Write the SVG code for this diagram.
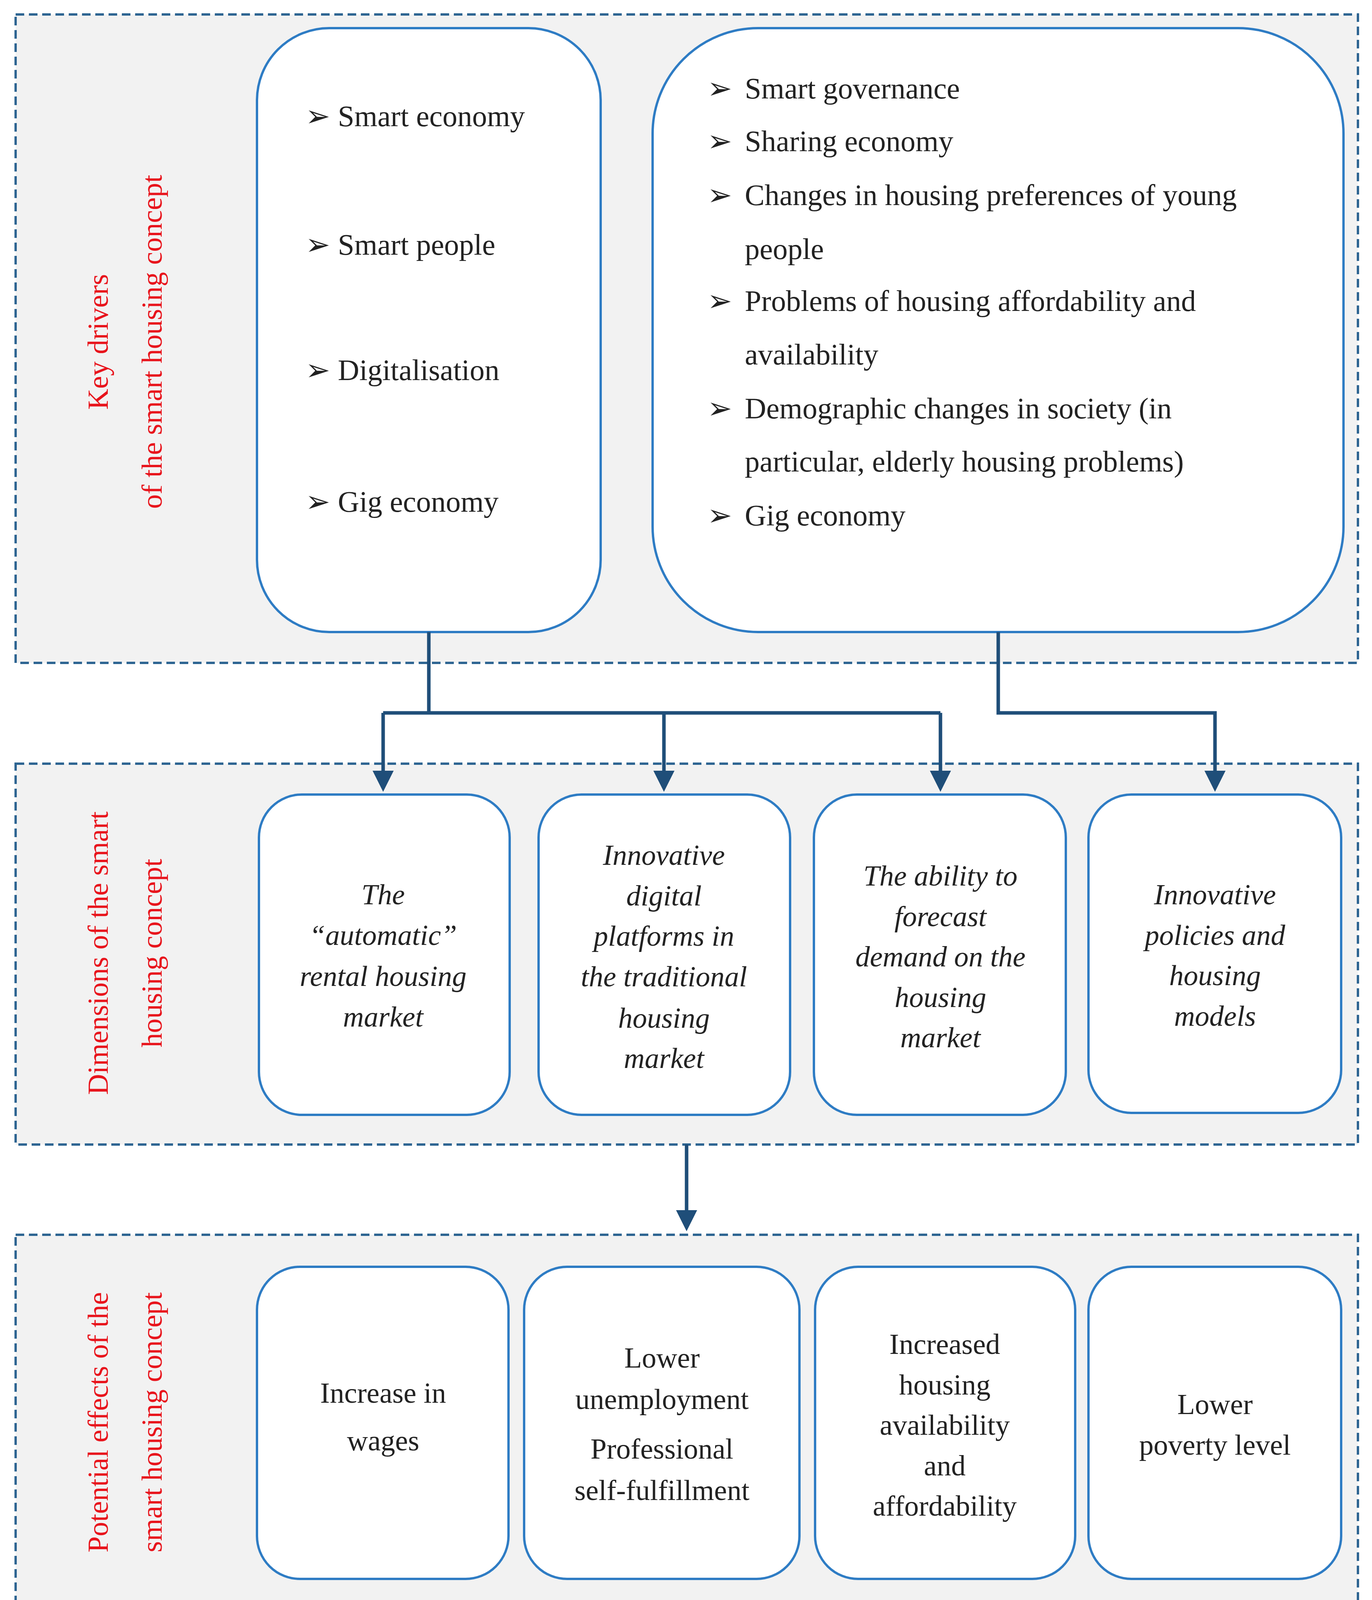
<svg xmlns="http://www.w3.org/2000/svg" width="3513" height="4161" viewBox="0 0 3513 4161">
<style>
.sec{fill:#f2f2f2;stroke:#2e6592;stroke-width:6;stroke-dasharray:22 12}
.box{fill:#fff;stroke:#2e7cc4;stroke-width:6}
.t{font-family:"Liberation Serif",serif;font-size:76px;fill:#222}
.i{font-family:"Liberation Serif",serif;font-size:74px;font-style:italic;fill:#222;text-anchor:middle}
.n{font-family:"Liberation Serif",serif;font-size:74px;fill:#222;text-anchor:middle}
.r{font-family:"Liberation Serif",serif;font-size:74px;fill:#e8141c;text-anchor:middle}
.c{fill:none;stroke:#1f4e79;stroke-width:9}
</style>
<defs><marker id="a" markerWidth="6" markerHeight="6" refX="3" refY="3" orient="auto" markerUnits="strokeWidth"><path d="M0,0L6,3L0,6z" fill="#1f4e79"/></marker></defs>
<rect class="sec" x="40" y="37" width="3437" height="1660"/>
<rect class="sec" x="40" y="1955" width="3437" height="975"/>
<rect class="sec" x="40" y="3161" width="3437" height="963"/>
<g id="label1"><text class="r" transform="translate(276,875) rotate(-90)">Key drivers</text><text class="r" transform="translate(414,875) rotate(-90)">of the smart housing concept</text></g>
<g id="label2"><text class="r" transform="translate(276,2440) rotate(-90)">Dimensions of the smart</text><text class="r" transform="translate(414,2440) rotate(-90)">housing concept</text></g>
<g id="label3"><text class="r" transform="translate(276,3641) rotate(-90)">Potential effects of the</text><text class="r" transform="translate(414,3641) rotate(-90)">smart housing concept</text></g>
<g id="driversA"><rect class="box" x="658" y="72" width="880" height="1546" rx="185"/>
<text class="t" x="782" y="323">➢  Smart economy</text>
<text class="t" x="782" y="652">➢  Smart people</text>
<text class="t" x="782" y="973">➢ Digitalisation</text>
<text class="t" x="782" y="1310">➢  Gig economy</text></g>
<g id="driversB"><rect class="box" x="1671" y="72" width="1769" height="1546" rx="270"/>
<text class="t" x="1811" y="252">➢</text><text class="t" x="1907" y="252">Smart governance</text>
<text class="t" x="1811" y="387">➢</text><text class="t" x="1907" y="387">Sharing economy</text>
<text class="t" x="1811" y="525">➢</text><text class="t" x="1907" y="525">Changes in housing preferences of young</text>
<text class="t" x="1907" y="663">people</text>
<text class="t" x="1811" y="796">➢</text><text class="t" x="1907" y="796">Problems of housing affordability and</text>
<text class="t" x="1907" y="933">availability</text>
<text class="t" x="1811" y="1071">➢</text><text class="t" x="1907" y="1071">Demographic changes in society (in</text>
<text class="t" x="1907" y="1207">particular, elderly housing problems)</text>
<text class="t" x="1811" y="1345">➢</text><text class="t" x="1907" y="1345">Gig economy</text></g>
<g id="dim1"><rect class="box" x="663" y="2034" width="642" height="820" rx="110"/>
<text class="i" x="981" y="2315">The</text><text class="i" x="981" y="2419">“automatic”</text><text class="i" x="981" y="2524">rental housing</text><text class="i" x="981" y="2628">market</text></g>
<g id="dim2"><rect class="box" x="1379" y="2034" width="644" height="820" rx="110"/>
<text class="i" x="1700" y="2214">Innovative</text><text class="i" x="1700" y="2318">digital</text><text class="i" x="1700" y="2421">platforms in</text><text class="i" x="1700" y="2525">the traditional</text><text class="i" x="1700" y="2631">housing</text><text class="i" x="1700" y="2734">market</text></g>
<g id="dim3"><rect class="box" x="2084" y="2034" width="645" height="820" rx="110"/>
<text class="i" x="2408" y="2267">The ability to</text><text class="i" x="2408" y="2371">forecast</text><text class="i" x="2408" y="2474">demand on the</text><text class="i" x="2408" y="2578">housing</text><text class="i" x="2408" y="2681">market</text></g>
<g id="dim4"><rect class="box" x="2787" y="2034" width="647" height="815" rx="110"/>
<text class="i" x="3111" y="2315">Innovative</text><text class="i" x="3111" y="2419">policies and</text><text class="i" x="3111" y="2522">housing</text><text class="i" x="3111" y="2626">models</text></g>
<g id="eff1"><rect class="box" x="658" y="3243" width="644" height="799" rx="110"/>
<text class="n" x="981" y="3591">Increase in</text><text class="n" x="981" y="3713">wages</text></g>
<g id="eff2"><rect class="box" x="1342" y="3243" width="705" height="799" rx="110"/>
<text class="n" x="1695" y="3501">Lower</text><text class="n" x="1695" y="3607">unemployment</text><text class="n" x="1695" y="3734">Professional</text><text class="n" x="1695" y="3840">self-fulfillment</text></g>
<g id="eff3"><rect class="box" x="2087" y="3243" width="666" height="799" rx="110"/>
<text class="n" x="2419" y="3466">Increased</text><text class="n" x="2419" y="3570">housing</text><text class="n" x="2419" y="3673">availability</text><text class="n" x="2419" y="3777">and</text><text class="n" x="2419" y="3880">affordability</text></g>
<g id="eff4"><rect class="box" x="2787" y="3243" width="647" height="799" rx="110"/>
<text class="n" x="3111" y="3620">Lower</text><text class="n" x="3111" y="3724">poverty level</text></g>
<g id="connectors">
<path class="c" d="M1098,1618V1825M981,1825H2408"/>
<path class="c" d="M981,1825V2000" marker-end="url(#a)"/>
<path class="c" d="M1700,1825V2000" marker-end="url(#a)"/>
<path class="c" d="M2408,1825V2000" marker-end="url(#a)"/>
<path class="c" d="M2556,1618V1825H3111V2000" marker-end="url(#a)"/>
<path class="c" d="M1758,2930V3125" marker-end="url(#a)"/>
</g>
</svg>
